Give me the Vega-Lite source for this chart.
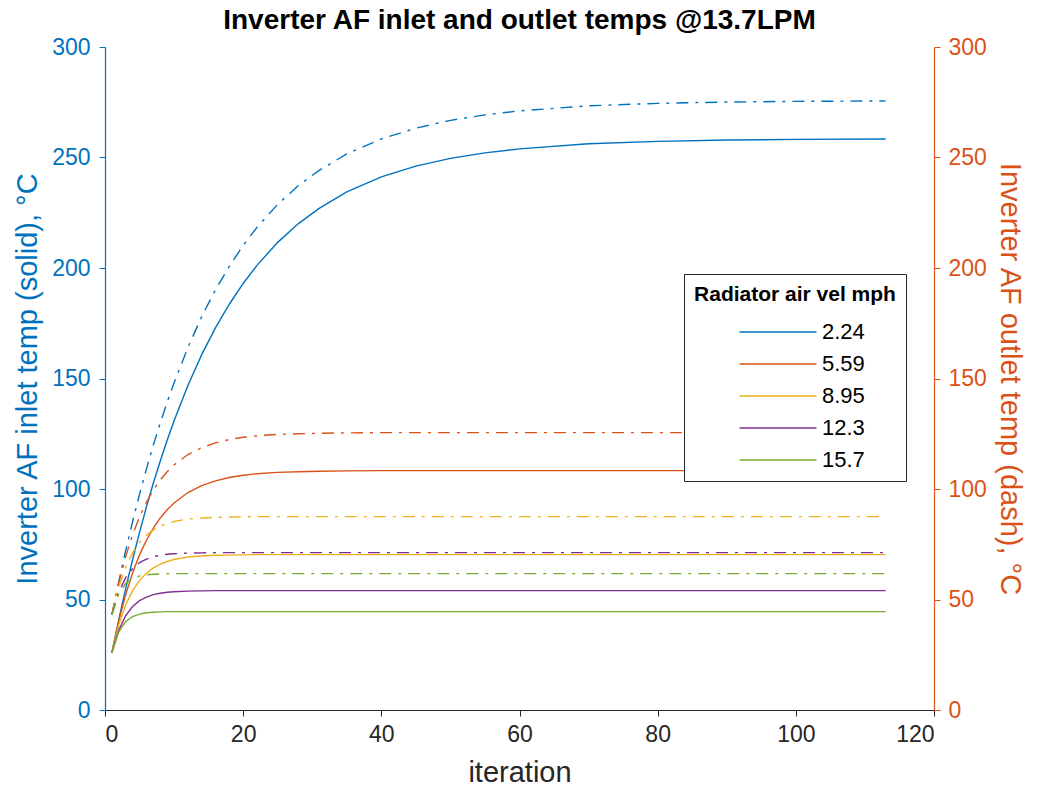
{
  "$schema": "https://vega.github.io/schema/vega-lite/v6.json",
  "width": 829,
  "height": 663,
  "autosize": "none",
  "padding": {"left": 105, "top": 47, "right": 108, "bottom": 78},
  "background": "white",
  "config": {
    "view": {"stroke": null},
    "font": "Liberation Sans",
    "axis": {"grid": false, "ticks": true, "tickWidth": 1, "domainWidth": 1.2, "zindex": 1, "labelFontSize": 23, "titleFontSize": 29, "titleFontWeight": "normal", "labelFont": "Liberation Sans", "titleFont": "Liberation Sans"}
  },
  "title": {"text": "Inverter AF inlet and outlet temps @13.7LPM", "fontSize": 28, "fontWeight": "bold", "font": "Liberation Sans", "color": "#000000", "anchor": "middle", "offset": 1},
  "data": {"values": [
    {"i":1,"s":"2.24","tin":26.0,"tout":43.2},{"i":2,"s":"2.24","tin":41.0,"tout":58.2},{"i":3,"s":"2.24","tin":55.0,"tout":72.2},{"i":4,"s":"2.24","tin":68.1,"tout":85.3},{"i":5,"s":"2.24","tin":80.4,"tout":97.6},{"i":6,"s":"2.24","tin":91.9,"tout":109.1},{"i":7,"s":"2.24","tin":102.7,"tout":119.9},{"i":8,"s":"2.24","tin":112.7,"tout":129.9},{"i":9,"s":"2.24","tin":122.1,"tout":139.3},{"i":10,"s":"2.24","tin":130.9,"tout":148.1},{"i":12,"s":"2.24","tin":146.8,"tout":164.0},{"i":14,"s":"2.24","tin":160.8,"tout":178.0},{"i":16,"s":"2.24","tin":173.0,"tout":190.2},{"i":18,"s":"2.24","tin":183.6,"tout":200.8},{"i":20,"s":"2.24","tin":193.0,"tout":210.2},{"i":22,"s":"2.24","tin":201.2,"tout":218.4},{"i":25,"s":"2.24","tin":211.6,"tout":228.8},{"i":28,"s":"2.24","tin":220.1,"tout":237.3},{"i":31,"s":"2.24","tin":227.0,"tout":244.2},{"i":35,"s":"2.24","tin":234.4,"tout":251.6},{"i":40,"s":"2.24","tin":241.2,"tout":258.4},{"i":45,"s":"2.24","tin":246.1,"tout":263.3},{"i":50,"s":"2.24","tin":249.6,"tout":266.8},{"i":55,"s":"2.24","tin":252.1,"tout":269.3},{"i":60,"s":"2.24","tin":253.9,"tout":271.1},{"i":70,"s":"2.24","tin":256.2,"tout":273.4},{"i":80,"s":"2.24","tin":257.3,"tout":274.5},{"i":90,"s":"2.24","tin":257.9,"tout":275.1},{"i":100,"s":"2.24","tin":258.2,"tout":275.4},{"i":113,"s":"2.24","tin":258.4,"tout":275.6},
    {"i":1,"s":"5.59","tin":26.0,"tout":43.2},{"i":2,"s":"5.59","tin":40.4,"tout":57.6},{"i":3,"s":"5.59","tin":52.3,"tout":69.5},{"i":4,"s":"5.59","tin":62.1,"tout":79.3},{"i":5,"s":"5.59","tin":70.2,"tout":87.4},{"i":6,"s":"5.59","tin":76.8,"tout":94.0},{"i":7,"s":"5.59","tin":82.3,"tout":99.5},{"i":8,"s":"5.59","tin":86.9,"tout":104.1},{"i":9,"s":"5.59","tin":90.6,"tout":107.8},{"i":10,"s":"5.59","tin":93.7,"tout":110.9},{"i":12,"s":"5.59","tin":98.4,"tout":115.6},{"i":14,"s":"5.59","tin":101.5,"tout":118.7},{"i":16,"s":"5.59","tin":103.7,"tout":120.9},{"i":18,"s":"5.59","tin":105.2,"tout":122.4},{"i":20,"s":"5.59","tin":106.2,"tout":123.4},{"i":22,"s":"5.59","tin":106.9,"tout":124.1},{"i":25,"s":"5.59","tin":107.5,"tout":124.7},{"i":28,"s":"5.59","tin":107.8,"tout":125.0},{"i":31,"s":"5.59","tin":108.0,"tout":125.2},{"i":35,"s":"5.59","tin":108.2,"tout":125.4},{"i":40,"s":"5.59","tin":108.3,"tout":125.5},{"i":60,"s":"5.59","tin":108.3,"tout":125.5},{"i":80,"s":"5.59","tin":108.3,"tout":125.5},{"i":100,"s":"5.59","tin":108.3,"tout":125.5},{"i":113,"s":"5.59","tin":108.3,"tout":125.5},
    {"i":1,"s":"8.95","tin":26.0,"tout":43.2},{"i":2,"s":"8.95","tin":38.6,"tout":55.8},{"i":3,"s":"8.95","tin":47.6,"tout":64.8},{"i":4,"s":"8.95","tin":54.0,"tout":71.2},{"i":5,"s":"8.95","tin":58.6,"tout":75.8},{"i":6,"s":"8.95","tin":61.9,"tout":79.1},{"i":7,"s":"8.95","tin":64.3,"tout":81.5},{"i":8,"s":"8.95","tin":66.0,"tout":83.2},{"i":9,"s":"8.95","tin":67.2,"tout":84.4},{"i":10,"s":"8.95","tin":68.1,"tout":85.3},{"i":12,"s":"8.95","tin":69.2,"tout":86.4},{"i":14,"s":"8.95","tin":69.7,"tout":86.9},{"i":16,"s":"8.95","tin":70.0,"tout":87.2},{"i":18,"s":"8.95","tin":70.1,"tout":87.3},{"i":20,"s":"8.95","tin":70.2,"tout":87.4},{"i":22,"s":"8.95","tin":70.3,"tout":87.5},{"i":40,"s":"8.95","tin":70.3,"tout":87.5},{"i":60,"s":"8.95","tin":70.3,"tout":87.5},{"i":80,"s":"8.95","tin":70.3,"tout":87.5},{"i":100,"s":"8.95","tin":70.3,"tout":87.5},{"i":113,"s":"8.95","tin":70.3,"tout":87.5},
    {"i":1,"s":"12.3","tin":26.0,"tout":43.2},{"i":2,"s":"12.3","tin":36.2,"tout":53.4},{"i":3,"s":"12.3","tin":42.7,"tout":59.9},{"i":4,"s":"12.3","tin":46.8,"tout":64.0},{"i":5,"s":"12.3","tin":49.5,"tout":66.7},{"i":6,"s":"12.3","tin":51.1,"tout":68.3},{"i":7,"s":"12.3","tin":52.2,"tout":69.4},{"i":8,"s":"12.3","tin":52.8,"tout":70.0},{"i":9,"s":"12.3","tin":53.3,"tout":70.5},{"i":10,"s":"12.3","tin":53.5,"tout":70.7},{"i":12,"s":"12.3","tin":53.8,"tout":71.0},{"i":14,"s":"12.3","tin":53.9,"tout":71.1},{"i":16,"s":"12.3","tin":54.0,"tout":71.2},{"i":40,"s":"12.3","tin":54.0,"tout":71.2},{"i":60,"s":"12.3","tin":54.0,"tout":71.2},{"i":80,"s":"12.3","tin":54.0,"tout":71.2},{"i":100,"s":"12.3","tin":54.0,"tout":71.2},{"i":113,"s":"12.3","tin":54.0,"tout":71.2},
    {"i":1,"s":"15.7","tin":26.0,"tout":43.2},{"i":2,"s":"15.7","tin":35.4,"tout":52.6},{"i":3,"s":"15.7","tin":40.1,"tout":57.3},{"i":4,"s":"15.7","tin":42.3,"tout":59.5},{"i":5,"s":"15.7","tin":43.4,"tout":60.6},{"i":6,"s":"15.7","tin":44.0,"tout":61.2},{"i":7,"s":"15.7","tin":44.2,"tout":61.4},{"i":8,"s":"15.7","tin":44.4,"tout":61.6},{"i":9,"s":"15.7","tin":44.5,"tout":61.7},{"i":40,"s":"15.7","tin":44.5,"tout":61.7},{"i":60,"s":"15.7","tin":44.5,"tout":61.7},{"i":80,"s":"15.7","tin":44.5,"tout":61.7},{"i":100,"s":"15.7","tin":44.5,"tout":61.7},{"i":113,"s":"15.7","tin":44.5,"tout":61.7}
  ]},
  "encoding": {
    "x": {"field": "i", "type": "quantitative", "scale": {"domain": [0, 120], "nice": false},
      "axis": {"title": "iteration", "values": [0, 20, 40, 60, 80, 100, 120], "tickSize": 6, "domainColor": "#262626", "tickColor": "#262626", "labelColor": "#262626", "titleColor": "#262626", "labelPadding": 7, "titlePadding": 12}}
  },
  "layer": [
    {
      "mark": {"type": "line", "strokeWidth": 1.4},
      "encoding": {
        "y": {"field": "tin", "type": "quantitative", "scale": {"domain": [0, 300], "nice": false},
          "axis": {"orient": "left", "title": "Inverter AF inlet temp (solid), °C", "values": [0, 50, 100, 150, 200, 250, 300], "tickSize": 6, "domainColor": "#0072BD", "tickColor": "#0072BD", "labelColor": "#0072BD", "titleColor": "#0072BD", "labelPadding": 9, "titlePadding": 9}},
        "color": {"field": "s", "type": "nominal",
          "scale": {"domain": ["2.24", "5.59", "8.95", "12.3", "15.7"], "range": ["#0072BD", "#D95319", "#EDB120", "#7E2F8E", "#77AC30"]},
          "legend": {"title": "Radiator air vel mph", "orient": "none", "legendX": 579, "legendY": 227, "symbolType": "M-4,0H4", "symbolSize": 370, "symbolStrokeWidth": 1.5, "symbolOffset": 42, "labelOffset": 33, "labelFontSize": 22, "labelColor": "#000000", "titleFontSize": 21, "titleFontWeight": "bold", "titleColor": "#000000", "titleAnchor": "middle", "titlePadding": 16, "rowPadding": 10, "padding": 10, "strokeColor": "#262626", "fillColor": "#ffffff", "labelLimit": 0, "titleLimit": 0}}
      }
    },
    {
      "mark": {"type": "line", "strokeWidth": 1.4, "strokeDash": [12, 7, 3, 7]},
      "encoding": {
        "y": {"field": "tout", "type": "quantitative", "scale": {"domain": [0, 300], "nice": false},
          "axis": {"orient": "right", "title": "Inverter AF outlet temp (dash), °C", "values": [0, 50, 100, 150, 200, 250, 300], "tickSize": 6, "domainColor": "#D95319", "tickColor": "#D95319", "labelColor": "#D95319", "titleColor": "#D95319", "labelPadding": 8, "titlePadding": 8}},
        "color": {"field": "s", "type": "nominal"}
      }
    }
  ],
  "resolve": {"scale": {"y": "independent"}}
}
